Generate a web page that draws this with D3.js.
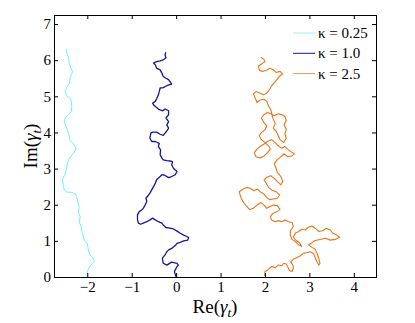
<!DOCTYPE html>
<html>
<head>
<meta charset="utf-8">
<script src="https://cdn.jsdelivr.net/npm/d3@7"></script>
<style>
  body { margin: 0; background: #fff; }
  text { font-family: "Liberation Serif", "Times New Roman", serif; fill: #000; }
</style>
</head>
<body>
<div id="chart"></div>
<script>
// SLE traces, [Re, Im] pairs
var kappas = ["0.25", "1.0", "2.5"];
var colors = ["#6ff0ff", "#16169a", "#ea7418"];
var xTicks = [-2, -1, 0, 1, 2, 3, 4];
var yTicks = [0, 1, 2, 3, 4, 5, 6, 7];

var trace025 = [
  [-2.00,0.00],[-2.00,0.15],[-1.95,0.29],[-1.88,0.38],[-1.84,0.44],[-1.88,0.54],[-1.94,0.61],
  [-1.97,0.70],[-1.99,0.84],[-2.00,0.93],[-2.07,1.01],[-2.09,1.12],[-2.12,1.26],[-2.14,1.39],
  [-2.18,1.53],[-2.16,1.67],[-2.20,1.79],[-2.18,1.95],[-2.22,2.09],[-2.24,2.23],[-2.27,2.30],
  [-2.35,2.34],[-2.46,2.35],[-2.52,2.41],[-2.54,2.55],[-2.56,2.69],[-2.52,2.80],[-2.48,2.92],
  [-2.46,3.06],[-2.44,3.19],[-2.39,3.31],[-2.31,3.43],[-2.25,3.56],[-2.31,3.68],[-2.39,3.78],
  [-2.41,3.91],[-2.44,4.03],[-2.48,4.16],[-2.52,4.30],[-2.50,4.40],[-2.42,4.49],[-2.36,4.58],
  [-2.35,4.72],[-2.36,4.86],[-2.39,4.95],[-2.46,5.01],[-2.50,5.13],[-2.46,5.25],[-2.40,5.36],
  [-2.39,5.50],[-2.33,5.69],[-2.37,5.78],[-2.41,5.92],[-2.42,6.06],[-2.46,6.20],[-2.48,6.31]
];

var trace10 = [
  [0.00,0.00],[-0.04,0.15],[0.02,0.29],[0.05,0.33],[0.02,0.38],[-0.10,0.41],[-0.21,0.33],
  [-0.29,0.38],[-0.31,0.52],[-0.25,0.61],[-0.21,0.70],[-0.17,0.75],[-0.10,0.79],[-0.02,0.87],
  [0.02,0.93],[0.09,0.96],[0.17,1.00],[0.26,1.02],[0.28,1.09],[0.24,1.12],[0.17,1.16],
  [0.09,1.21],[0.02,1.27],[-0.06,1.33],[-0.14,1.35],[-0.23,1.37],[-0.29,1.44],[-0.32,1.49],
  [-0.40,1.53],[-0.47,1.58],[-0.53,1.63],[-0.59,1.58],[-0.66,1.53],[-0.74,1.49],[-0.80,1.46],
  [-0.85,1.49],[-0.87,1.58],[-0.87,1.72],[-0.83,1.81],[-0.77,1.86],[-0.74,1.90],[-0.70,1.99],
  [-0.66,2.09],[-0.68,2.18],[-0.62,2.27],[-0.59,2.32],[-0.55,2.41],[-0.51,2.50],[-0.47,2.59],
  [-0.44,2.69],[-0.36,2.78],[-0.32,2.83],[-0.25,2.81],[-0.17,2.75],[-0.10,2.78],[-0.02,2.83],
  [0.02,2.92],[-0.02,2.96],[-0.06,3.01],[-0.10,3.10],[-0.08,3.19],[-0.14,3.21],[-0.21,3.22],
  [-0.29,3.24],[-0.32,3.29],[-0.36,3.38],[-0.35,3.52],[-0.40,3.61],[-0.38,3.70],[-0.47,3.75],
  [-0.55,3.75],[-0.59,3.84],[-0.57,3.98],[-0.53,4.01],[-0.44,4.01],[-0.36,3.95],[-0.29,3.92],
  [-0.25,3.98],[-0.21,4.04],[-0.17,4.12],[-0.21,4.21],[-0.17,4.30],[-0.23,4.40],[-0.17,4.49],
  [-0.17,4.60],[-0.25,4.65],[-0.30,4.60],[-0.38,4.63],[-0.44,4.69],[-0.50,4.75],[-0.53,4.81],
  [-0.47,4.86],[-0.44,4.93],[-0.40,5.04],[-0.38,5.13],[-0.36,5.23],[-0.29,5.24],[-0.20,5.30],
  [-0.10,5.34],[-0.14,5.41],[-0.17,5.46],[-0.23,5.50],[-0.29,5.55],[-0.32,5.64],[-0.36,5.73],
  [-0.44,5.78],[-0.47,5.87],[-0.51,5.92],[-0.44,5.96],[-0.36,5.98],[-0.29,6.01],[-0.23,6.06],
  [-0.25,6.15],[-0.23,6.22]
];

var trace25 = [
  [1.99,0.03],[2.00,0.15],[2.08,0.21],[2.15,0.29],[2.23,0.26],[2.30,0.33],[2.38,0.31],
  [2.42,0.38],[2.48,0.36],[2.51,0.29],[2.55,0.18],[2.61,0.15],[2.64,0.24],[2.63,0.33],
  [2.58,0.42],[2.64,0.49],[2.72,0.54],[2.79,0.58],[2.87,0.66],[2.94,0.67],[3.02,0.70],
  [3.09,0.66],[3.13,0.54],[3.17,0.42],[3.21,0.33],[3.24,0.38],[3.21,0.52],[3.17,0.66],
  [3.13,0.77],[3.06,0.82],[2.98,0.89],[3.06,0.95],[3.13,1.01],[3.24,1.04],[3.36,1.07],
  [3.47,1.02],[3.58,1.04],[3.68,1.10],[3.62,1.16],[3.53,1.21],[3.47,1.30],[3.38,1.35],
  [3.30,1.28],[3.21,1.26],[3.13,1.35],[3.06,1.41],[2.98,1.38],[2.91,1.30],[2.83,1.32],
  [2.76,1.26],[2.68,1.21],[2.64,1.10],[2.70,1.01],[2.78,0.95],[2.83,0.84],[2.76,0.89],
  [2.68,0.98],[2.61,1.04],[2.57,1.16],[2.58,1.30],[2.64,1.39],[2.61,1.51],[2.53,1.53],
  [2.45,1.58],[2.38,1.53],[2.30,1.56],[2.23,1.53],[2.15,1.58],[2.12,1.67],[2.18,1.76],
  [2.27,1.81],[2.34,1.87],[2.28,1.97],[2.19,1.99],[2.12,1.95],[2.04,1.90],[1.98,1.99],
  [1.91,2.06],[1.82,1.99],[1.74,1.90],[1.65,1.87],[1.58,1.97],[1.50,2.09],[1.45,2.23],
  [1.42,2.36],[1.50,2.43],[1.59,2.48],[1.68,2.45],[1.74,2.39],[1.83,2.43],[1.89,2.36],
  [1.97,2.30],[2.03,2.21],[2.10,2.14],[2.19,2.16],[2.28,2.18],[2.33,2.27],[2.25,2.36],
  [2.15,2.41],[2.08,2.48],[2.03,2.59],[1.98,2.69],[2.04,2.76],[2.13,2.80],[2.21,2.73],
  [2.28,2.64],[2.36,2.55],[2.40,2.64],[2.36,2.78],[2.28,2.89],[2.25,3.01],[2.21,3.13],
  [2.27,3.24],[2.36,3.33],[2.43,3.41],[2.51,3.33],[2.61,3.35],[2.66,3.41],[2.58,3.47],
  [2.51,3.54],[2.45,3.61],[2.38,3.56],[2.30,3.63],[2.23,3.72],[2.15,3.80],[2.05,3.75],
  [1.98,3.68],[1.89,3.61],[1.82,3.54],[1.76,3.44],[1.80,3.33],[1.89,3.29],[1.98,3.35],
  [2.06,3.44],[2.12,3.54],[2.08,3.63],[2.00,3.72],[1.92,3.80],[1.87,3.91],[1.92,4.00],
  [2.00,4.07],[2.04,4.18],[1.98,4.27],[1.92,4.40],[1.97,4.49],[2.06,4.55],[2.13,4.52],
  [2.21,4.46],[2.30,4.52],[2.38,4.49],[2.45,4.44],[2.48,4.33],[2.43,4.21],[2.48,4.09],
  [2.45,3.96],[2.48,3.84],[2.42,3.72],[2.34,3.80],[2.30,3.91],[2.25,4.03],[2.19,4.12],
  [2.23,4.25],[2.18,4.39],[2.13,4.63],[2.08,4.74],[2.04,4.86],[1.98,4.92],[1.89,4.90],
  [1.82,4.83],[1.78,4.95],[1.74,5.07],[1.80,5.13],[1.88,5.09],[1.97,5.04],[2.04,5.09],
  [2.10,5.18],[2.15,5.29],[2.21,5.38],[2.27,5.46],[2.34,5.57],[2.40,5.62],[2.34,5.69],
  [2.25,5.66],[2.19,5.73],[2.11,5.78],[2.04,5.73],[1.97,5.69],[1.88,5.71],[1.85,5.83],
  [1.93,5.90],[2.00,5.96],[1.97,6.03],[1.91,6.08]
];

var traces = [trace025, trace10, trace25];
var widths = [1, 1.3, 1.1];

var W = 415, H = 323;
var m = {left: 54, right: 39, top: 15, bottom: 46};
var pw = W - m.left - m.right, ph = H - m.top - m.bottom;

var svg = d3.select("#chart").append("svg")
  .attr("width", W).attr("height", H);

var x = d3.scaleLinear().domain([-2.75, 4.5]).range([m.left, m.left + pw]);
var y = d3.scaleLinear().domain([0, 7.25]).range([m.top + ph, m.top]);

var line = d3.line().x(function(d) { return x(d[0]); }).y(function(d) { return y(d[1]); });

traces.forEach(function(t, i) {
  svg.append("path")
    .attr("d", line(t))
    .attr("fill", "none")
    .attr("stroke", colors[i])
    .attr("stroke-width", widths[i])
    .attr("stroke-linejoin", "round");
});

// box with inward ticks on every side
var fmt = function(d) { return d < 0 ? "\u2212" + Math.abs(d) : "" + d; };
var tl = 4;

var gx = svg.append("g").attr("transform", "translate(0," + (m.top + ph) + ")")
  .call(d3.axisBottom(x).tickValues(xTicks).tickSizeInner(-tl).tickSizeOuter(0).tickPadding(4).tickFormat(fmt));
var gxt = svg.append("g").attr("transform", "translate(0," + m.top + ")")
  .call(d3.axisTop(x).tickValues(xTicks).tickSizeInner(-tl).tickSizeOuter(0).tickFormat(""));
var gy = svg.append("g").attr("transform", "translate(" + m.left + ",0)")
  .call(d3.axisLeft(y).tickValues(yTicks).tickSizeInner(-tl).tickSizeOuter(0).tickPadding(3).tickFormat(fmt));
var gyr = svg.append("g").attr("transform", "translate(" + (m.left + pw) + ",0)")
  .call(d3.axisRight(y).tickValues(yTicks).tickSizeInner(-tl).tickSizeOuter(0).tickFormat(""));

[gx, gxt, gy, gyr].forEach(function(g) {
  g.select(".domain").remove();
  g.selectAll("line").attr("stroke", "#000");
  g.selectAll("text").style("font-family", "Liberation Serif, serif").style("font-size", "15px").attr("fill", "#000");
});

svg.append("rect")
  .attr("x", m.left).attr("y", m.top).attr("width", pw).attr("height", ph)
  .attr("fill", "none").attr("stroke", "#000").attr("stroke-width", 1)
  .attr("shape-rendering", "crispEdges");

// axis labels
var xl = svg.append("text")
  .attr("x", m.left + pw / 2).attr("y", 313)
  .attr("text-anchor", "middle").style("font-size", "19px");
xl.append("tspan").text("Re(");
xl.append("tspan").style("font-style", "italic").text("\u03b3");
xl.append("tspan").style("font-style", "italic").style("font-size", "13px").attr("dy", 4).text("t");
xl.append("tspan").attr("dy", -4).text(")");

var yl = svg.append("text")
  .attr("transform", "translate(37," + (m.top + ph / 2) + ") rotate(-90)")
  .attr("text-anchor", "middle").style("font-size", "19px");
yl.append("tspan").text("Im(");
yl.append("tspan").style("font-style", "italic").text("\u03b3");
yl.append("tspan").style("font-style", "italic").style("font-size", "13px").attr("dy", 4).text("t");
yl.append("tspan").attr("dy", -4).text(")");

// legend
var lg = svg.append("g");
kappas.forEach(function(k, i) {
  var ly = 33 + i * 20.3;
  lg.append("line")
    .attr("x1", 293).attr("x2", 315).attr("y1", ly).attr("y2", ly)
    .attr("stroke", colors[i]).attr("stroke-width", 1).attr("opacity", i === 1 ? 1 : 0.75);
  lg.append("text")
    .attr("x", 318).attr("y", ly + 5)
    .style("font-size", "15px")
    .text("\u03ba = " + k);
});
</script>
</body>
</html>
